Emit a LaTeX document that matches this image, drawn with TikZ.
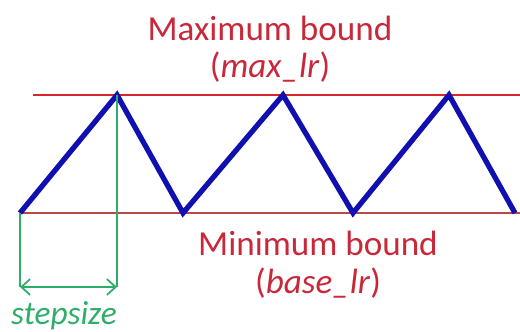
\documentclass[tikz,border=0pt]{standalone}
\usepackage{fontspec}
\setmainfont{Carlito}
\usetikzlibrary{arrows.meta, positioning}
\definecolor{BoundRed}{HTML}{D9262B}
\definecolor{BaseRed}{HTML}{B8484A}
\definecolor{LabelRed}{HTML}{C8283A}
\definecolor{ZigBlue}{HTML}{1010B0}
\definecolor{StepGreen}{HTML}{2FAE6A}
\tikzset{
    bound/.style={
        line width=1.6pt,
        #1
    },
    bound/.default=BoundRed,
    zigzag/.style={
        line width=3pt,
        ZigBlue,
        line join=miter
    },
    guide/.style={
        line width=1pt,
        StepGreen
    },
    steparrow/.style={
        {Straight Barb[length=5pt,width=9pt]}-{Straight Barb[length=5pt,width=9pt]},
        line width=1pt,
        StepGreen
    },
    label/.style={
        text=LabelRed,
        font=\fontsize{20}{24}\selectfont,
        align=center,
        inner sep=0pt
    }
}

\begin{document}
\begin{tikzpicture}[x=0.02cm, y=-0.02cm]
        \useasboundingbox (0,0) rectangle (520,331);

        % Bounds
        \coordinate (maxL) at (33,95);
        \coordinate (maxR) at (520,95);
        \coordinate (minL) at (20,213);
        \coordinate (minR) at (520,213);
        \draw[bound=BoundRed] (maxL) -- (maxR);
        \draw[bound=BaseRed] (minL) -- (minR);

        % Triangular cycle
        \coordinate (v0) at (20,213);
        \coordinate (p1) at (117,95);
        \coordinate (v1) at (183,213);
        \coordinate (p2) at (283,95);
        \coordinate (v2) at (353,213);
        \coordinate (p3) at (449,95);
        \coordinate (v3) at (515,213);
        \draw[zigzag] (v0) -- (p1) -- (v1) -- (p2) -- (v2) -- (p3) -- (v3);

        % Step size
        \coordinate (sA) at (20,287);
        \coordinate (sB) at (117,287);
        \draw[guide] (v0) -- (sA);
        \draw[guide] (p1) -- (sB);
        \draw[steparrow] (sA) -- (sB);
        \node[label, text=StepGreen, font=\fontsize{19}{22}\selectfont\itshape] (step) at (64,316) {stepsize};

        % Labels
        \node[label] (maxtxt) at (270,28) {Maximum bound};
        \node[label] (maxvar) at (270,67) {(\textit{max\_lr})};
        \node[label] (mintxt) at (318,243) {Minimum bound};
        \node[label] (minvar) at (318,283) {(\textit{base\_lr})};
\end{tikzpicture}
\end{document}
